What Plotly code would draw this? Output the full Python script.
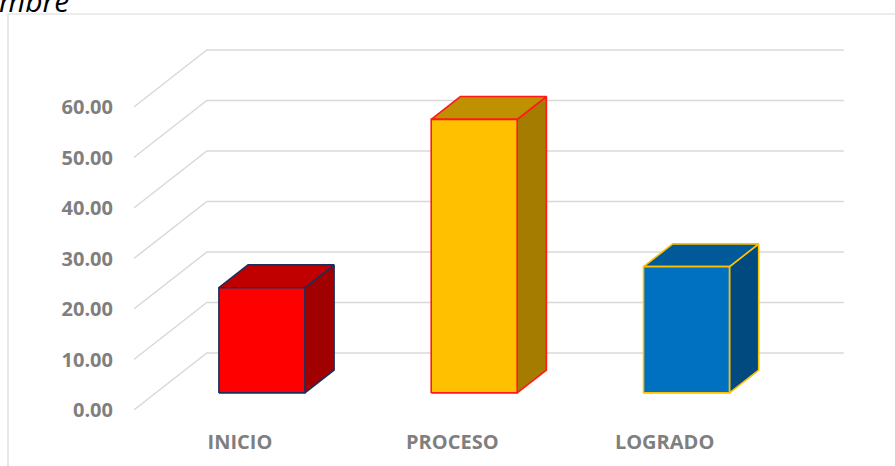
import plotly.graph_objects as go

# ---- data -------------------------------------------------------------
categories = ["INICIO", "PROCESO", "LOGRADO"]
percent = [20.83, 54.17, 25.00]
value_ticks = [0, 10, 20, 30, 40, 50, 60]

front_colors = ["#FF0000", "#FFC000", "#0070C0"]
top_colors = ["#C00000", "#BF9000", "#005A9A"]
side_colors = ["#A00000", "#A67C00", "#004A80"]
edge_colors = ["#1F2D5C", "#FF1A1A", "#FFC000"]

# ---- page geometry (pixels) ------------------------------------------
W, H = 895, 466
L, R, T, B = 134, 45, 40, 56
CAT_PX = 212.3          # distance between neighbouring categories
VAL_PX = 5.05           # pixels per percentage point
X0_PX = 240             # first category column on the front plane
DEPTH_DX_PX, DEPTH_DY_PX = 73, 57   # oblique shift of the full floor depth

plot_w = W - L - R
plot_h = H - T - B
x_range = [(L - X0_PX) / CAT_PX, (W - R - X0_PX) / CAT_PX]
y_range = [0, plot_h / VAL_PX]

DX = DEPTH_DX_PX / CAT_PX   # depth shift in category units
DY = DEPTH_DY_PX / VAL_PX   # depth shift in value units
BAR_W = 0.405
D_FRONT, D_BACK = 0.3, 0.7  # bar occupies the middle of the floor depth


def paper_x(px):
    return (px - L) / plot_w


def paper_y(py):
    return (H - B - py) / plot_h


fig = go.Figure()

# back wall + left wall gridlines
gx, gy = [], []
for v in value_ticks:
    gx += [-0.5, -0.5 + DX, 2.5 + DX, None]
    gy += [v, v + DY, v + DY, None]
fig.add_trace(go.Scatter(x=gx, y=gy, mode="lines",
                         line=dict(color="#D9D9D9", width=1.5),
                         hoverinfo="skip", showlegend=False))

# 3D bars: side, top and front faces
for i, v in enumerate(percent):
    xl = i - BAR_W / 2
    xr = i + BAR_W / 2
    fxl, fxr = xl + D_FRONT * DX, xr + D_FRONT * DX
    bxl, bxr = xl + D_BACK * DX, xr + D_BACK * DX
    fy0, fy1 = D_FRONT * DY, v + D_FRONT * DY
    by0, by1 = D_BACK * DY, v + D_BACK * DY
    edge = dict(color=edge_colors[i], width=1.6)
    faces = [
        ([fxr, bxr, bxr, fxr, fxr], [fy0, by0, by1, fy1, fy0], side_colors[i]),
        ([fxl, fxr, bxr, bxl, fxl], [fy1, fy1, by1, by1, fy1], top_colors[i]),
        ([fxl, fxr, fxr, fxl, fxl], [fy0, fy0, fy1, fy1, fy0], front_colors[i]),
    ]
    for fx, fy, col in faces:
        fig.add_trace(go.Scatter(x=fx, y=fy, mode="lines", fill="toself",
                                 fillcolor=col, line=edge,
                                 hoverinfo="skip", showlegend=False))

# chart frame
fig.add_shape(type="line", xref="paper", yref="paper",
              x0=paper_x(8), x1=paper_x(W + 5), y0=paper_y(14), y1=paper_y(14),
              line=dict(color="#D9D9D9", width=1.2), layer="below")
fig.add_shape(type="line", xref="paper", yref="paper",
              x0=paper_x(8), x1=paper_x(8), y0=paper_y(14), y1=paper_y(H + 5),
              line=dict(color="#D9D9D9", width=1.2), layer="below")

# title fragment at the top-left corner
fig.add_annotation(text="<i>mbre</i>", xref="paper", yref="paper",
                   x=paper_x(-3), y=paper_y(12), xanchor="left", yanchor="bottom",
                   showarrow=False, yshift=-11,
                   font=dict(family="Open Sans", size=30, color="#000000"))

tick_font = dict(family="Open Sans", size=20, color="#7F7F7F", weight="bold")

fig.update_layout(
    width=W, height=H,
    margin=dict(l=L, r=R, t=T, b=B, pad=0),
    paper_bgcolor="white", plot_bgcolor="white",
    xaxis=dict(range=x_range, tickvals=list(range(len(categories))),
               ticktext=categories, showgrid=False, zeroline=False,
               showline=False, ticks="", tickfont=tick_font,
               ticklabelstandoff=18, fixedrange=True),
    yaxis=dict(range=y_range, tickvals=value_ticks, tickformat=".2f",
               showgrid=False, zeroline=False, showline=False, ticks="",
               tickfont=tick_font, ticklabelstandoff=20, fixedrange=True),
)

fig.write_html("out.html")
